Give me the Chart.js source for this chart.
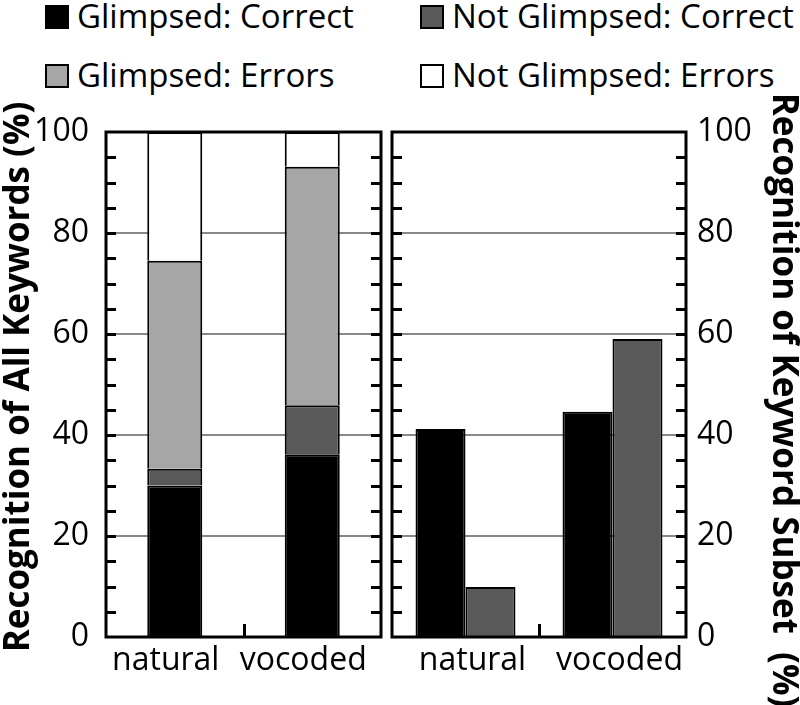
<!DOCTYPE html>
<html>
<head>
<meta charset="utf-8">
<script src="https://cdn.jsdelivr.net/npm/chart.js@4.4.1/dist/chart.umd.min.js"></script>
<style>
  body { margin: 0; background: #fff; width: 800px; height: 705px; position: relative; overflow: hidden; font-family: "Open Sans", sans-serif; }
  #allChart { position: absolute; left: 0; top: 0; }
  #subsetChart { position: absolute; left: 385px; top: 0; }
  .legBox { position: absolute; width: 20px; height: 20px; border: 2px solid #000; }
  .legText { position: absolute; font-size: 33px; line-height: 36px; color: #000; white-space: nowrap; }
</style>
</head>
<body>
<div id="legend"></div>
<canvas id="allChart" width="392" height="705"></canvas>
<canvas id="subsetChart" width="415" height="705"></canvas>
<script>
const categories = ["natural", "vocoded"];
const seriesNames = ["Glimpsed: Correct", "Not Glimpsed: Correct", "Glimpsed: Errors", "Not Glimpsed: Errors"];
const seriesColors = ["#000000", "#595959", "#a6a6a6", "#ffffff"];

// left panel, stacked segments (all keywords)
const allGlimpsedCorrect = [30, 36.2];
const allNotGlimpsedCorrect = [3.3, 9.7];
const allGlimpsedErrors = [41.2, 47.2];
const allNotGlimpsedErrors = [25.5, 6.9];

// right panel, keyword subset
const subsetGlimpsedCorrect = [41.2, 44.6];
const subsetNotGlimpsedCorrect = [9.9, 59];

const yTicks = [0, 20, 40, 60, 80, 100];

Chart.defaults.font.family = "'Open Sans', sans-serif";
Chart.defaults.color = "#000";

// legend, 2 x 2 above the panels
const legend = document.getElementById("legend");
seriesNames.forEach((name, i) => {
  const col = i % 2, row = Math.floor(i / 2);
  const bx = [45, 420][col], by = [5, 64][row];
  const box = document.createElement("div");
  box.className = "legBox";
  box.style.left = bx + "px";
  box.style.top = by + "px";
  box.style.background = seriesColors[i];
  legend.appendChild(box);
  const t = document.createElement("div");
  t.className = "legText";
  t.style.left = (bx + 32) + "px";
  t.style.top = (by - 7) + "px";
  t.textContent = name;
  legend.appendChild(t);
});

// box, inward minor ticks every 5, middle category tick, rotated axis title
const framePlugin = {
  id: "frame",
  afterDatasetsDraw(chart, args, opts) {
    const { ctx, chartArea: a, scales } = chart;
    const y = scales.y, x = scales.x;
    ctx.save();
    ctx.strokeStyle = "#000";
    ctx.lineWidth = 3;
    ctx.beginPath();
    for (let v = 5; v < 100; v += 5) {
      const py = Math.round(y.getPixelForValue(v)) + 0.5;
      ctx.moveTo(a.left, py); ctx.lineTo(a.left + 10, py);
      ctx.moveTo(a.right, py); ctx.lineTo(a.right - 10, py);
    }
    const mid = Math.round((x.getPixelForValue(0) + x.getPixelForValue(1)) / 2) + 0.5;
    ctx.moveTo(mid, a.bottom); ctx.lineTo(mid, a.bottom - 13);
    ctx.stroke();
    ctx.strokeRect(a.left, a.top, a.right - a.left, a.bottom - a.top);

    if (opts.title) {
      ctx.translate(opts.titleX, opts.titleY);
      ctx.rotate(opts.titleRotation);
      ctx.font = "bold 35px 'Open Sans', sans-serif";
      ctx.fillStyle = "#000";
      ctx.textAlign = "center";
      ctx.textBaseline = "middle";
      ctx.fillText(opts.title, 0, 0);
    }
    ctx.restore();
  }
};

const tickFont = { size: 32 };

function yScale(position, padding, width) {
  return {
    position: position,
    min: 0,
    max: 100,
    afterBuildTicks(s) { s.ticks = yTicks.map(v => ({ value: v })); },
    ticks: { font: tickFont, color: "#000", padding: padding },
    grid: {
      drawTicks: false,
      lineWidth: 2,
      color: c => (c.tick && c.tick.value > 0 && c.tick.value < 100) ? "#888888" : "rgba(0,0,0,0)"
    },
    border: { display: false },
    afterFit(s) { s.width = width; }
  };
}

function xScale(stacked, offset) {
  return {
    stacked: stacked,
    grid: { display: false },
    border: { display: false },
    ticks: { font: tickFont, color: "#000", padding: -3, labelOffset: offset },
    afterFit(s) { s.height = 68; }
  };
}

const allSeries = [allGlimpsedCorrect, allNotGlimpsedCorrect, allGlimpsedErrors, allNotGlimpsedErrors];

new Chart(document.getElementById("allChart"), {
  type: "bar",
  data: {
    labels: categories,
    datasets: allSeries.map((d, i) => ({
      label: seriesNames[i],
      data: d,
      backgroundColor: seriesColors[i],
      borderColor: "#000",
      borderWidth: 2,
      barPercentage: 0.4,
      categoryPercentage: 1
    }))
  },
  options: {
    responsive: false,
    animation: false,
    devicePixelRatio: 1,
    layout: { padding: { top: 132, right: 11, left: 0, bottom: 0 } },
    plugins: {
      legend: { display: false },
      tooltip: { enabled: false },
      frame: { title: "Recognition of All Keywords (%)", titleX: 19, titleY: 377, titleRotation: -Math.PI / 2 }
    },
    scales: {
      x: xScale(true, -9),
      y: Object.assign(yScale("left", 17, 106), { stacked: true })
    }
  },
  plugins: [framePlugin]
});

const subsetSeries = [subsetGlimpsedCorrect, subsetNotGlimpsedCorrect];

new Chart(document.getElementById("subsetChart"), {
  type: "bar",
  data: {
    labels: categories,
    datasets: subsetSeries.map((d, i) => ({
      label: seriesNames[i],
      data: d,
      backgroundColor: seriesColors[i],
      borderColor: "#000",
      borderWidth: 2,
      barPercentage: 1,
      categoryPercentage: 0.68
    }))
  },
  options: {
    responsive: false,
    animation: false,
    devicePixelRatio: 1,
    layout: { padding: { top: 132, right: 0, left: 7, bottom: 0 } },
    plugins: {
      legend: { display: false },
      tooltip: { enabled: false },
      frame: { title: "Recognition of Keyword Subset  (%)", titleX: 398, titleY: 400, titleRotation: Math.PI / 2 }
    },
    scales: {
      x: xScale(false, 7),
      y: yScale("right", 11, 114)
    }
  },
  plugins: [framePlugin]
});
</script>
</body>
</html>
